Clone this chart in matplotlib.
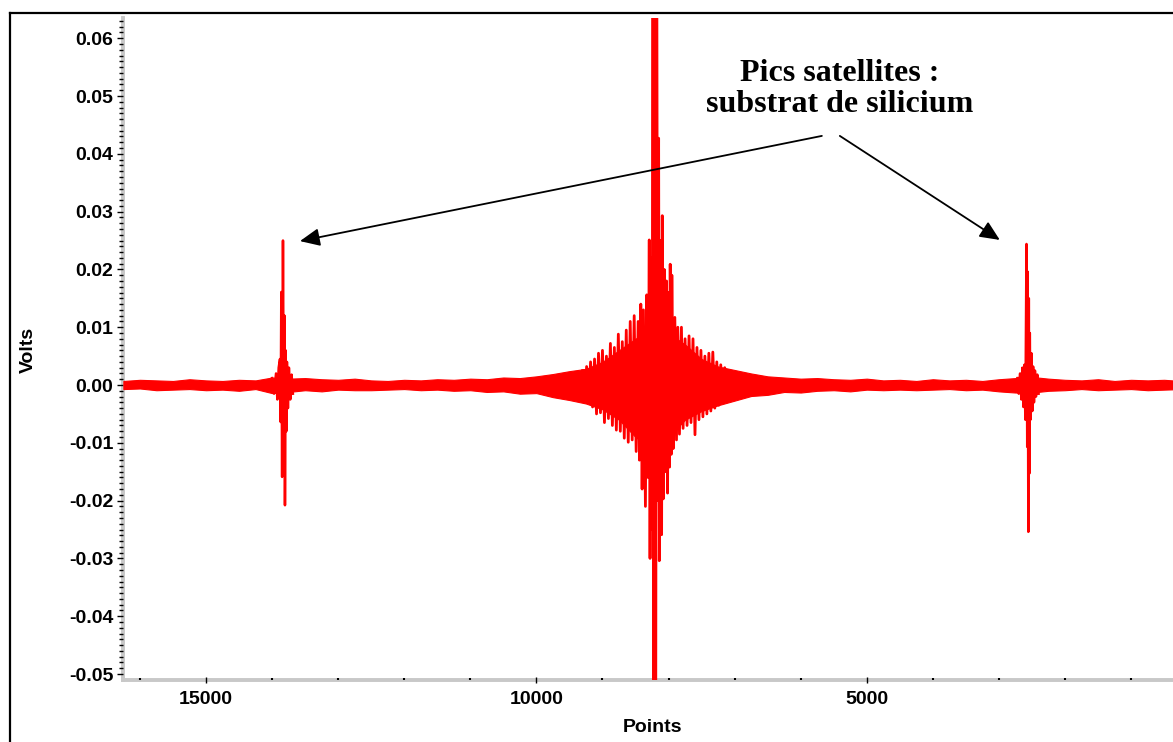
import matplotlib
matplotlib.use("Agg")
import matplotlib.pyplot as plt
from matplotlib.ticker import MultipleLocator, FormatStrFormatter
from matplotlib.lines import Line2D

# ---------------- data ----------------
# noise band envelope (points, upper / lower volts)
env_x = [16250, 16000, 15750, 15500, 15250, 15000, 14750, 14500, 14250, 14000,
         13750, 13500, 13250, 13000, 12750, 12500, 12250, 12000, 11750, 11500,
         11250, 11000, 10750, 10500, 10250, 10000, 9750, 9500, 9250, 9000,
         8750, 8500, 8250, 8000, 7750, 7500, 7250, 7000, 6750, 6500,
         6250, 6000, 5750, 5500, 5250, 5000, 4750, 4500, 4250, 4000,
         3750, 3500, 3250, 3000, 2750, 2500, 2250, 2000, 1750, 1500,
         1250, 1000, 750, 500, 250]
env_hi = [0.0007, 0.0009, 0.0008, 0.0007, 0.0010, 0.0008, 0.0007, 0.0009, 0.0008, 0.0013,
          0.0011, 0.0012, 0.0010, 0.0009, 0.0011, 0.0008, 0.0007, 0.0009, 0.0008, 0.0010,
          0.0009, 0.0011, 0.0010, 0.0013, 0.0012, 0.0015, 0.0019, 0.0024, 0.0028, 0.0040,
          0.0060, 0.0080, 0.0100, 0.0090, 0.0070, 0.0045, 0.0032, 0.0026, 0.0020, 0.0015,
          0.0013, 0.0011, 0.0012, 0.0010, 0.0009, 0.0011, 0.0008, 0.0009, 0.0007, 0.0010,
          0.0008, 0.0009, 0.0007, 0.0010, 0.0012, 0.0014, 0.0011, 0.0009, 0.0008, 0.0010,
          0.0007, 0.0009, 0.0008, 0.0009, 0.0007]
env_lo = [-0.0007, -0.0006, -0.0009, -0.0008, -0.0007, -0.0009, -0.0008, -0.0010, -0.0007, -0.0014,
          -0.0012, -0.0009, -0.0011, -0.0008, -0.0009, -0.0009, -0.0008, -0.0007, -0.0009, -0.0008,
          -0.0010, -0.0009, -0.0012, -0.0011, -0.0015, -0.0014, -0.0021, -0.0026, -0.0032, -0.0042,
          -0.0060, -0.0090, -0.0110, -0.0090, -0.0060, -0.0045, -0.0035, -0.0027, -0.0019, -0.0017,
          -0.0012, -0.0013, -0.0010, -0.0009, -0.0011, -0.0008, -0.0009, -0.0008, -0.0009, -0.0008,
          -0.0007, -0.0009, -0.0008, -0.0011, -0.0013, -0.0013, -0.0010, -0.0009, -0.0007, -0.0009,
          -0.0008, -0.0007, -0.0009, -0.0008, -0.0007]

# central burst (extrema, points / volts)
burst_x = [9300, 9270, 9240, 9210, 9180, 9150, 9120, 9090, 9060, 9030,
           9000, 8970, 8940, 8910, 8880, 8850, 8820, 8790, 8760, 8730,
           8700, 8670, 8640, 8610, 8580, 8550, 8520, 8490, 8460, 8440,
           8420, 8400, 8380, 8350, 8330, 8310, 8292, 8280, 8265, 8250,
           8235, 8222, 8208, 8195, 8180, 8165, 8150, 8140, 8120, 8105,
           8095, 8080, 8065, 8050, 8030, 8015, 8000, 7985, 7975, 7960,
           7950, 7930, 7905, 7880, 7860, 7835, 7805, 7780, 7750, 7720,
           7690, 7660, 7630, 7600, 7570, 7540, 7510, 7480, 7450, 7420,
           7390, 7360, 7330, 7300, 7270, 7240, 7210, 7180, 7150, 7120,
           7090, 7060]
burst_y = [0.0025, -0.0030, 0.0032, -0.0028, 0.0040, -0.0038, 0.0045, -0.0050, 0.0055, -0.0048,
           0.0060, -0.0065, 0.0050, -0.0058, 0.0072, -0.0070, 0.0065, -0.0078, 0.0088, -0.0080,
           0.0075, -0.0092, 0.0095, -0.0099, 0.0110, -0.0095, 0.0120, -0.0115, 0.0110, -0.0130,
           0.0140, -0.0180, 0.0130, -0.0210, 0.0156, -0.0160, 0.0251, -0.0300, 0.0220, -0.0250,
           0.0900, -0.0700, 0.0900, -0.0700, 0.0900, -0.0200, 0.0427, -0.0304, 0.0250, -0.0259,
           0.0293, -0.0197, 0.0200, -0.0150, 0.0180, -0.0187, 0.0160, -0.0142, 0.0209, -0.0120,
           0.0190, -0.0110, 0.0117, -0.0095, 0.0100, -0.0085, 0.0100, -0.0075, 0.0080, -0.0070,
           0.0085, -0.0065, 0.0080, -0.0086, 0.0065, -0.0060, 0.0060, -0.0055, 0.0050, -0.0050,
           0.0055, -0.0045, 0.0057, -0.0040, 0.0040, -0.0035, 0.0035, -0.0030, 0.0030, -0.0028,
           0.0025, -0.0022]

# left satellite peak
satL_x = [14000, 13970, 13940, 13920, 13900, 13880, 13870, 13860, 13848, 13835,
          13822, 13812, 13805, 13795, 13785, 13775, 13760, 13745, 13725, 13705, 13685]
satL_y = [0.0012, -0.0015, 0.0020, -0.0025, 0.0030, 0.0045, -0.0064, 0.0161, -0.0159, 0.0250,
          -0.0120, 0.0120, -0.0208, 0.0060, -0.0080, 0.0040, -0.0040, 0.0030, -0.0025, 0.0018, -0.0015]

# right satellite peak
satR_x = [2720, 2700, 2680, 2660, 2645, 2630, 2615, 2600, 2583, 2572,
          2565, 2555, 2548, 2540, 2533, 2523, 2508, 2495, 2483, 2470,
          2455, 2440, 2420, 2400]
satR_y = [0.0012, -0.0015, 0.0020, -0.0025, 0.0030, -0.0038, 0.0035, -0.0060, 0.0244, -0.0107,
          0.0196, -0.0254, 0.0150, -0.0153, 0.0090, -0.0060, 0.0055, -0.0045, 0.0032, -0.0030,
          0.0025, -0.0020, 0.0018, -0.0015]

y_ticks = [-0.05, -0.04, -0.03, -0.02, -0.01, 0.00, 0.01, 0.02, 0.03, 0.04, 0.05, 0.06]
x_ticks = [15000, 10000, 5000]

# ---------------- figure ----------------
W, H = 1173, 742
fig = plt.figure(figsize=(W / 100, H / 100), dpi=100)
fig.patch.set_facecolor("white")

ax = fig.add_axes([123 / W, 1 - 679.5 / H, 1 - 123 / W, (679.5 - 18) / H])

red = "#ff0000"
ax.fill_between(env_x, env_hi, env_lo, color=red, lw=0.8, zorder=2)
ax.plot(burst_x, burst_y, color=red, lw=2.0, zorder=3)
ax.plot(satL_x, satL_y, color=red, lw=1.8, zorder=3)
ax.plot(satR_x, satR_y, color=red, lw=1.8, zorder=3)

ax.set_xlim(16256, 366)
ax.set_ylim(-0.05095, 0.0635)

for s in ("top", "right"):
    ax.spines[s].set_visible(False)
for s in ("left", "bottom"):
    ax.spines[s].set_color("#c8c8c8")
    ax.spines[s].set_linewidth(2.8)
    ax.spines[s].set_zorder(1)

ax.set_yticks(y_ticks)
ax.yaxis.set_major_formatter(FormatStrFormatter("%.2f"))
ax.yaxis.set_minor_locator(MultipleLocator(0.001))
ax.set_xticks(x_ticks)
ax.xaxis.set_minor_locator(MultipleLocator(1000))

ax.tick_params(axis="y", which="major", direction="out", length=4, width=1,
               color="black", pad=3)
ax.tick_params(axis="y", which="minor", direction="out", length=3, width=1,
               color="black")
ax.tick_params(axis="x", which="major", direction="inout", length=4, width=1,
               color="black", pad=6)
ax.tick_params(axis="x", which="minor", direction="in", length=1.5, width=1.5,
               color="black")

font = "Liberation Sans"
for lab in ax.get_xticklabels() + ax.get_yticklabels():
    lab.set_fontfamily(font)
    lab.set_fontweight("bold")
    lab.set_fontsize(14)

fig.text(652 / W, 1 - 728 / H, "Points", ha="center", va="center",
         fontfamily=font, fontweight="bold", fontsize=14)
fig.text(28 / W, 1 - 350 / H, "Volts", ha="center", va="center", rotation=90,
         fontfamily=font, fontweight="bold", fontsize=14)

fig.text(840 / W, 1 - 89 / H, "Pics satellites :\nsubstrat de silicium",
         ha="center", va="center", fontfamily="Liberation Serif",
         fontweight="bold", fontsize=23, linespacing=1.1)

aprops = dict(arrowstyle="-|>,head_length=0.6,head_width=0.27",
              mutation_scale=20, lw=1.3, color="black", shrinkA=0, shrinkB=0)
ax.annotate("", xy=(13578, 0.0249), xytext=(5680, 0.0431),
            arrowprops=aprops, annotation_clip=False)
ax.annotate("", xy=(2987, 0.0251), xytext=(5408, 0.0431),
            arrowprops=aprops, annotation_clip=False)

# outer frame (left and top edges)
fig.add_artist(Line2D([10 / W, 10 / W], [0, 1 - 12.5 / H], color="black",
                      lw=1.6, transform=fig.transFigure))
fig.add_artist(Line2D([10 / W, 1], [1 - 12.5 / H, 1 - 12.5 / H], color="black",
                      lw=1.6, transform=fig.transFigure))

fig.savefig("out.png", dpi=100)
